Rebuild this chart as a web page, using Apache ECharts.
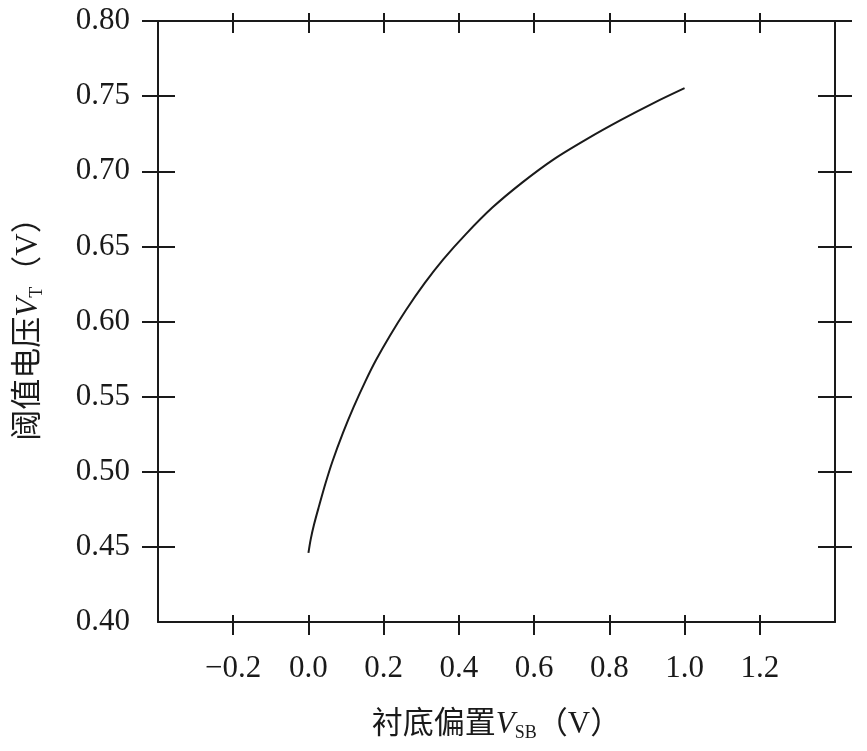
<!DOCTYPE html>
<html>
<head>
<meta charset="utf-8">
<script src="https://cdn.jsdelivr.net/npm/echarts@6/dist/echarts.min.js"></script>
<style>html,body{margin:0;padding:0;background:#fff;}#c{width:867px;height:751px;}</style>
</head>
<body>
<div id="c"></div>
<script>
// Data
var vsb = [0, 0.006, 0.015, 0.028, 0.045, 0.064, 0.092, 0.120, 0.151, 0.179, 0.217, 0.259, 0.309, 0.359, 0.418, 0.489, 0.569, 0.653, 0.740, 0.830, 0.920, 1.000];
var vt  = [0.446, 0.455, 0.465, 0.477, 0.492, 0.507, 0.526, 0.543, 0.560, 0.574, 0.5907, 0.6075, 0.6255, 0.6415, 0.658, 0.6758, 0.6926, 0.7081, 0.7214, 0.734, 0.7457, 0.7553];
var xTickValues = [-0.2, 0.0, 0.2, 0.4, 0.6, 0.8, 1.0, 1.2];
var yTickValues = [0.45, 0.50, 0.55, 0.60, 0.65, 0.70, 0.75, 0.80];
var yLabelValues = [0.40, 0.45, 0.50, 0.55, 0.60, 0.65, 0.70, 0.75, 0.80];
var xName = '衬底偏置{i|V}{sub|SB}（V）';
var yName = '阈值电压{i|V}{sub|T}（V）';

var FONT = '"Liberation Serif", "Noto Sans CJK SC", serif';
var INK = '#1a1a1a';
var richName = {
  i: { fontStyle: 'italic', fontSize: 31, fontFamily: '"Liberation Serif", serif', color: INK },
  sub: { fontSize: 18, fontFamily: '"Liberation Serif", serif', color: INK, padding: [16, 0, 0, 0] }
};

function xAx(pos, inside, len, withLabels, showLine) {
  return {
    type: 'value', position: pos, min: -0.4, max: 1.4, interval: 0.2,
    axisLine: { show: showLine, onZero: false, lineStyle: { color: INK, width: 2 } },
    axisTick: { show: true, inside: inside, length: len, customValues: xTickValues, lineStyle: { color: INK, width: 2 } },
    axisLabel: withLabels ? {
      show: true, customValues: xTickValues, margin: 31, fontSize: 31, fontFamily: FONT, color: INK,
      formatter: function (v) { return (v < 0 ? '\u2212' : '') + Math.abs(v).toFixed(1); }
    } : { show: false },
    splitLine: { show: false },
    name: withLabels ? xName : '', nameLocation: 'middle', nameGap: 86,
    nameTextStyle: { fontSize: 31, fontFamily: FONT, color: INK, rich: richName }
  };
}
function yAx(pos, inside, len, withLabels, showLine) {
  return {
    type: 'value', position: pos, min: 0.40, max: 0.80, interval: 0.05,
    axisLine: { show: showLine, onZero: false, lineStyle: { color: INK, width: 2 } },
    axisTick: { show: true, inside: inside, length: len, customValues: yTickValues, lineStyle: { color: INK, width: 2 } },
    axisLabel: withLabels ? {
      show: true, customValues: yLabelValues, margin: 28, fontSize: 31, fontFamily: FONT, color: INK,
      formatter: function (v) { return v.toFixed(2); }
    } : { show: false },
    splitLine: { show: false },
    name: withLabels ? yName : '', nameLocation: 'middle', nameGap: 112,
    nameTextStyle: { fontSize: 31, fontFamily: FONT, color: INK, rich: richName }
  };
}

var data = vsb.map(function (x, i) { return [x, vt[i]]; });

var chart = echarts.init(document.getElementById('c'), null, { renderer: 'canvas' });
chart.setOption({
  animation: false,
  backgroundColor: '#fff',
  grid: { left: 158, right: 32, top: 21, bottom: 129, containLabel: false },
  xAxis: [
    xAx('bottom', false, 13, true, true),
    xAx('bottom', true, 7, false, false),
    xAx('top', false, 8, false, true),
    xAx('top', true, 12, false, false)
  ],
  yAxis: [
    yAx('left', false, 16, true, true),
    yAx('left', true, 17, false, false),
    yAx('right', false, 17, false, true),
    yAx('right', true, 17, false, false)
  ],
  series: [{
    type: 'line', xAxisIndex: 0, yAxisIndex: 0, data: data,
    smooth: 0.3, showSymbol: false, symbol: 'none',
    lineStyle: { color: INK, width: 2 }
  }]
});
</script>
</body>
</html>
